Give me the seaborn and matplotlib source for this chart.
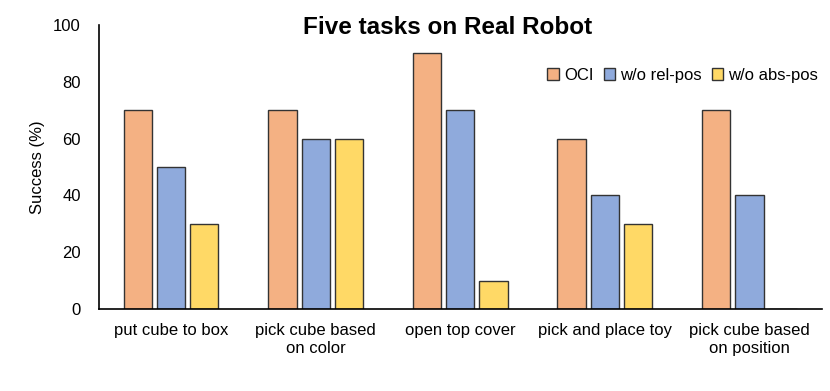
import pandas as pd
import matplotlib
matplotlib.use("Agg")
import matplotlib.pyplot as plt
import seaborn as sns

# 데이터
tasks = ["put cube to box", "pick cube based\non color", "open top cover",
         "pick and place toy", "pick cube based\non position"]
methods = ["OCI", "w/o rel-pos", "w/o abs-pos"]
oci = [70, 70, 90, 60, 70]
rel_pos = [50, 60, 70, 40, 40]
abs_pos = [30, 60, 10, 30, 0]
colors = ["#F4B183", "#8FAADC", "#FFD966"]

df = pd.DataFrame({
    "task": tasks * 3,
    "method": [m for m in methods for _ in tasks],
    "success": oci + rel_pos + abs_pos,
})

sns.set_style("white")
plt.rcParams['font.family'] = ['Liberation Sans', 'DejaVu Sans']
plt.rcParams['text.color'] = 'black'
plt.rcParams['axes.labelcolor'] = 'black'
plt.rcParams['xtick.color'] = 'black'
plt.rcParams['ytick.color'] = 'black'

fig = plt.figure(figsize=(8.3, 3.91), dpi=100)
ax = fig.add_axes([0.119, 0.21, 0.871, 0.726])

sns.barplot(data=df, x="task", y="success", hue="method", palette=colors,
            width=0.69, gap=0.15, edgecolor="#333333", linewidth=1.0,
            saturation=1, ax=ax)

ax.set_ylim(0, 100)
ax.set_xlim(-0.5, 4.5)
ax.set_yticks(range(0, 101, 20))
ax.set_xlabel("")
ax.set_ylabel("Success (%)", fontsize=12, labelpad=6)
ax.tick_params(axis="y", labelsize=12, length=0, pad=13)
ax.tick_params(axis="x", labelsize=12, length=0, pad=10)
for lab in ax.get_xticklabels():
    lab.set_linespacing(1.25)

sns.despine(ax=ax)
for s in ["left", "bottom"]:
    ax.spines[s].set_color("#000000")
    ax.spines[s].set_linewidth(1.2)

fig.text(0.539, 0.93, "Five tasks on Real Robot", ha="center", va="center",
         fontsize=17.5, fontweight="bold")

ax.legend(loc="center right", bbox_to_anchor=(1.0, 0.808),
          bbox_transform=fig.transFigure, ncol=3, frameon=False,
          fontsize=12, handlelength=0.7, handleheight=0.7,
          handletextpad=0.3, columnspacing=0.6, borderpad=0.2)

fig.savefig("out.png", dpi=100)
